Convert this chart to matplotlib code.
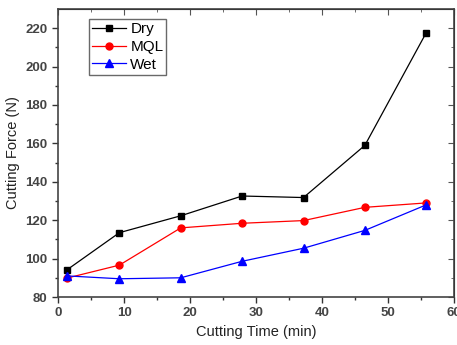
import matplotlib
matplotlib.use("Agg")
import matplotlib.pyplot as plt

plt.rcParams['font.family'] = ['Liberation Sans', 'DejaVu Sans']

time_min = [1.3, 9.3, 18.6, 27.9, 37.2, 46.5, 55.8]
dry = [94, 113.5, 122.3, 132.6, 131.8, 159, 217.7]
mql = [89.8, 96.6, 116, 118.4, 119.8, 126.7, 129]
wet = [91, 89.5, 90, 98.6, 105.4, 114.7, 128]
xticks = [0, 10, 20, 30, 40, 50, 60]
yticks = [80, 100, 120, 140, 160, 180, 200, 220]

fig = plt.figure(figsize=(4.57, 3.45), dpi=100)
ax = fig.add_axes([58/457, 48/345, 396/457, 288/345])

ax.plot(time_min, dry, color='black', lw=0.9, marker='s', ms=4.5, label='Dry')
ax.plot(time_min, mql, color='red', lw=0.9, marker='o', ms=5, label='MQL')
ax.plot(time_min, wet, color='blue', lw=0.9, marker='^', ms=5.5, label='Wet')

ax.set_xlim(0, 60)
ax.set_ylim(80, 230)
ax.set_xticks(xticks)
ax.set_yticks(yticks)
ax.set_xticks(range(5, 60, 10), minor=True)
ax.set_yticks(range(90, 230, 20), minor=True)
ax.tick_params(which='major', direction='out', length=4, width=1, labelsize=9.5, colors='#333333', labelcolor='#444444')
ax.tick_params(which='minor', direction='out', length=2.5, width=1, colors='#333333')
for lab in ax.get_xticklabels() + ax.get_yticklabels():
    lab.set_fontweight('bold')
for s in ax.spines.values():
    s.set_color('#444444')
    s.set_linewidth(1.2)

top = ax.secondary_xaxis('top')
top.set_xticks(xticks)
top.set_xticks(range(5, 60, 10), minor=True)
top.tick_params(which='major', direction='in', length=4, labeltop=False, colors='#555555')
top.tick_params(which='minor', direction='in', length=2.5, colors='#555555')
right = ax.secondary_yaxis('right')
right.set_yticks(yticks)
right.set_yticks(range(90, 230, 20), minor=True)
right.tick_params(which='major', direction='in', length=4, labelright=False, colors='#555555')
right.tick_params(which='minor', direction='in', length=2.5, colors='#555555')

ax.set_xlabel('Cutting Time (min)', fontsize=10.5, color='#222222', labelpad=4)
ax.set_ylabel('Cutting Force (N)', fontsize=10.5, color='#222222', labelpad=4)

leg = ax.legend(loc='upper left', bbox_to_anchor=(31/396, 0.965), fontsize=11, frameon=True,
                fancybox=False, edgecolor='#444444', handlelength=2.2, handletextpad=0.3,
                borderpad=0.2, labelspacing=0.25, borderaxespad=0)
leg.get_frame().set_linewidth(1.0)

fig.savefig('out.png', dpi=100)
